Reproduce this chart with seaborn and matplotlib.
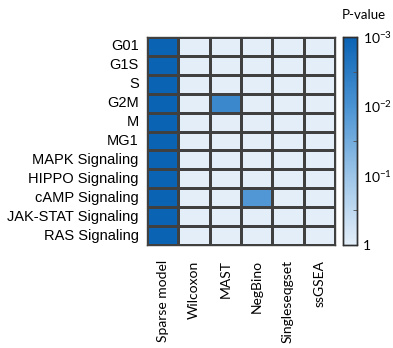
import numpy as np
import pandas as pd
import matplotlib
matplotlib.use("Agg")
import matplotlib.pyplot as plt
import seaborn as sns
from matplotlib.colors import LinearSegmentedColormap

pathways = ["G01", "G1S", "S", "G2M", "M", "MG1", "MAPK Signaling",
            "HIPPO Signaling", "cAMP Signaling", "JAK-STAT Signaling", "RAS Signaling"]
methods = ["Sparse model", "Wilcoxon", "MAST", "NegBino", "Singleseqgset", "ssGSEA"]

# p-values per method (one list per method, in pathway order)
p_sparse = [0.001] * 11
p_wilcoxon = [1.0] * 11
p_mast = [1.0, 1.0, 1.0, 0.006, 1.0, 1.0, 1.0, 1.0, 1.0, 1.0, 1.0]
p_negbino = [1.0, 1.0, 1.0, 1.0, 1.0, 1.0, 1.0, 1.0, 0.012, 1.0, 1.0]
p_singleseqgset = [1.0] * 11
p_ssgsea = [1.0] * 11

cbar_ticks = [0, 1, 2, 3]
cbar_ticklabels = ["1", "10$^{-1}$", "10$^{-2}$", "10$^{-3}$"]

pvals = pd.DataFrame({
    "Sparse model": p_sparse, "Wilcoxon": p_wilcoxon, "MAST": p_mast,
    "NegBino": p_negbino, "Singleseqgset": p_singleseqgset, "ssGSEA": p_ssgsea,
}, index=pathways)[methods]
score = -np.log10(pvals)

cmap = LinearSegmentedColormap.from_list("blues", ["#e3eef9", "#9cc5e8", "#4a93d3", "#0b63b4"])

plt.rcParams["mathtext.default"] = "regular"
fig = plt.figure(figsize=(3.93, 3.48), dpi=100)
ax = fig.add_axes([147/393, 1-245/348, 188/393, 208/348])
cax = fig.add_axes([343/393, 1-245/348, 14/393, 208/348])

sns.heatmap(score, ax=ax, cbar_ax=cax, cmap=cmap, vmin=0, vmax=3,
            linewidths=0.8, linecolor="#404040")

for s in ax.spines.values():
    s.set_visible(True)
    s.set_color("#404040")
    s.set_linewidth(1.0)

ax.tick_params(length=0, pad=6)
ax.set_yticklabels(pathways, rotation=0, fontsize=10.5, family="Liberation Sans")
ax.set_xticklabels(methods, rotation=90, fontsize=10, family="Lato")
ax.tick_params(axis="x", pad=11)
ax.set_xlabel("")
ax.set_ylabel("")

cax.set_yticks(cbar_ticks)
cax.set_yticklabels(cbar_ticklabels, fontsize=10, family="Lato")
cax.set_yticks([0.5, 1.5, 2.5], minor=True)
cax.tick_params(which="major", length=0, pad=4)
cax.tick_params(which="minor", length=3, direction="in", color="#555555", right=True)
for s in cax.spines.values():
    s.set_visible(True)
    s.set_color("#303030")
    s.set_linewidth(1.0)
cax.set_title("P-value", fontsize=9.5, family="Lato", pad=13, x=1.5)

fig.savefig("out.png", dpi=100)
